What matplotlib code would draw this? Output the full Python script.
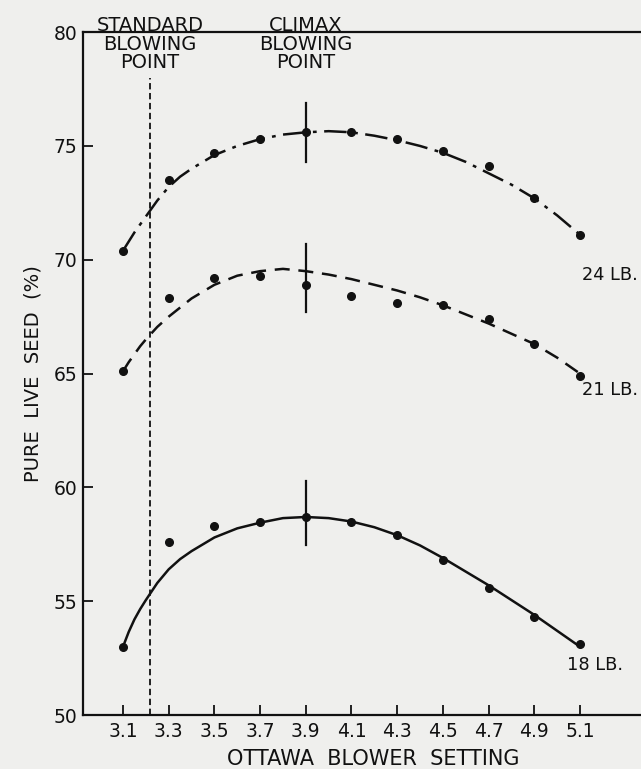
import matplotlib
matplotlib.use("Agg")
import matplotlib.pyplot as plt

# blower settings where seed was sampled
settings = [3.1, 3.3, 3.5, 3.7, 3.9, 4.1, 4.3, 4.5, 4.7, 4.9, 5.1]

# measured pure live seed (%), by bushel weight
pls_24 = [70.4, 73.5, 74.7, 75.3, 75.6, 75.6, 75.3, 74.8, 74.1, 72.7, 71.1]
pls_21 = [65.1, 68.3, 69.2, 69.3, 68.9, 68.4, 68.1, 68.0, 67.4, 66.3, 64.9]
pls_18 = [53.0, 57.6, 58.3, 58.5, 58.7, 58.5, 57.9, 56.8, 55.6, 54.3, 53.1]

# hand-drawn fitted curves
curve_x = [3.1, 3.125, 3.15, 3.175, 3.2, 3.25, 3.3, 3.35, 3.4, 3.45, 3.5, 3.6,
           3.7, 3.8, 3.9, 4.0, 4.1, 4.2, 4.3, 4.4, 4.5, 4.6, 4.7, 4.8, 4.9,
           5.0, 5.1]
curve_24 = [70.4, 70.8, 71.2, 71.55, 71.9, 72.6, 73.2, 73.65, 74.0, 74.3, 74.6, 75.0,
            75.3, 75.5, 75.6, 75.65, 75.6, 75.45, 75.25, 75.0, 74.7, 74.3, 73.8, 73.3,
            72.7, 71.95, 71.1]
curve_21 = [65.1, 65.5, 65.85, 66.2, 66.5, 67.05, 67.5, 67.9, 68.3, 68.6, 68.9, 69.3,
            69.5, 69.6, 69.5, 69.35, 69.15, 68.9, 68.65, 68.35, 68.0, 67.6, 67.2, 66.75,
            66.3, 65.7, 65.0]
curve_18 = [53.0, 53.65, 54.2, 54.65, 55.05, 55.8, 56.4, 56.85, 57.2, 57.5, 57.8, 58.2,
            58.45, 58.65, 58.7, 58.65, 58.5, 58.25, 57.9, 57.45, 56.9, 56.3, 55.7, 55.05,
            54.4, 53.7, 53.0]

standard_point = 3.218
climax_point = 3.9
climax_spans = [(74.3, 76.9), (67.7, 70.7), (57.45, 60.3)]
labels = ["24 LB.", "21 LB.", "18 LB."]
label_pos = [(5.108, 69.33), (5.108, 64.28), (5.045, 52.2)]

bg = "#efefed"
ink = "#111111"

fig = plt.figure(figsize=(6.41, 7.69), dpi=100, facecolor=bg)
ax = fig.add_axes([0.1295, 0.0702, 0.8705, 0.888])
ax.set_facecolor(bg)

ax.plot(curve_x, curve_24, color=ink, lw=1.8, dashes=(9, 3, 1.5, 3))
ax.plot(curve_x, curve_21, color=ink, lw=1.8, dashes=(6, 3.5))
ax.plot(curve_x, curve_18, color=ink, lw=1.8)
for vals in (pls_24, pls_21, pls_18):
    ax.plot(settings, vals, "o", color=ink, ms=5.5)

for lo, hi in climax_spans:
    ax.plot([climax_point, climax_point], [lo, hi], color=ink, lw=1.6)
ax.plot([standard_point, standard_point], [50, 78.0], color=ink, lw=1.3,
        dashes=(3.5, 2))

for lab, (x, y) in zip(labels, label_pos):
    ax.text(x, y, lab, fontsize=12.8, ha="left", va="center", color=ink)

ax.text(standard_point, 79.47, "STANDARD\nBLOWING\nPOINT", fontsize=14,
        ha="center", va="center", linespacing=0.98, color=ink, clip_on=False)
ax.text(climax_point, 79.47, "CLIMAX\nBLOWING\nPOINT", fontsize=14,
        ha="center", va="center", linespacing=0.98, color=ink, clip_on=False)

ax.set_xlim(2.925, 5.367)
ax.set_ylim(50, 80)
ax.set_xticks(settings)
ax.set_xticklabels([f"{s:.1f}" for s in settings])
ax.set_yticks([50, 55, 60, 65, 70, 75, 80])
ax.tick_params(direction="in", length=7, width=1.3, labelsize=13.5, colors=ink)
ax.tick_params(axis="x", pad=5)
ax.tick_params(axis="y", pad=4)
ax.spines["right"].set_visible(False)
for s in ("left", "top", "bottom"):
    ax.spines[s].set_linewidth(1.6)
    ax.spines[s].set_color(ink)

fig.text(0.582, 0.0124, "OTTAWA  BLOWER  SETTING", fontsize=15,
         ha="center", va="center", color=ink)
ax.set_ylabel("PURE  LIVE  SEED  (%)", fontsize=14, labelpad=8, color=ink)

fig.savefig("out.png", dpi=100, facecolor=bg)
